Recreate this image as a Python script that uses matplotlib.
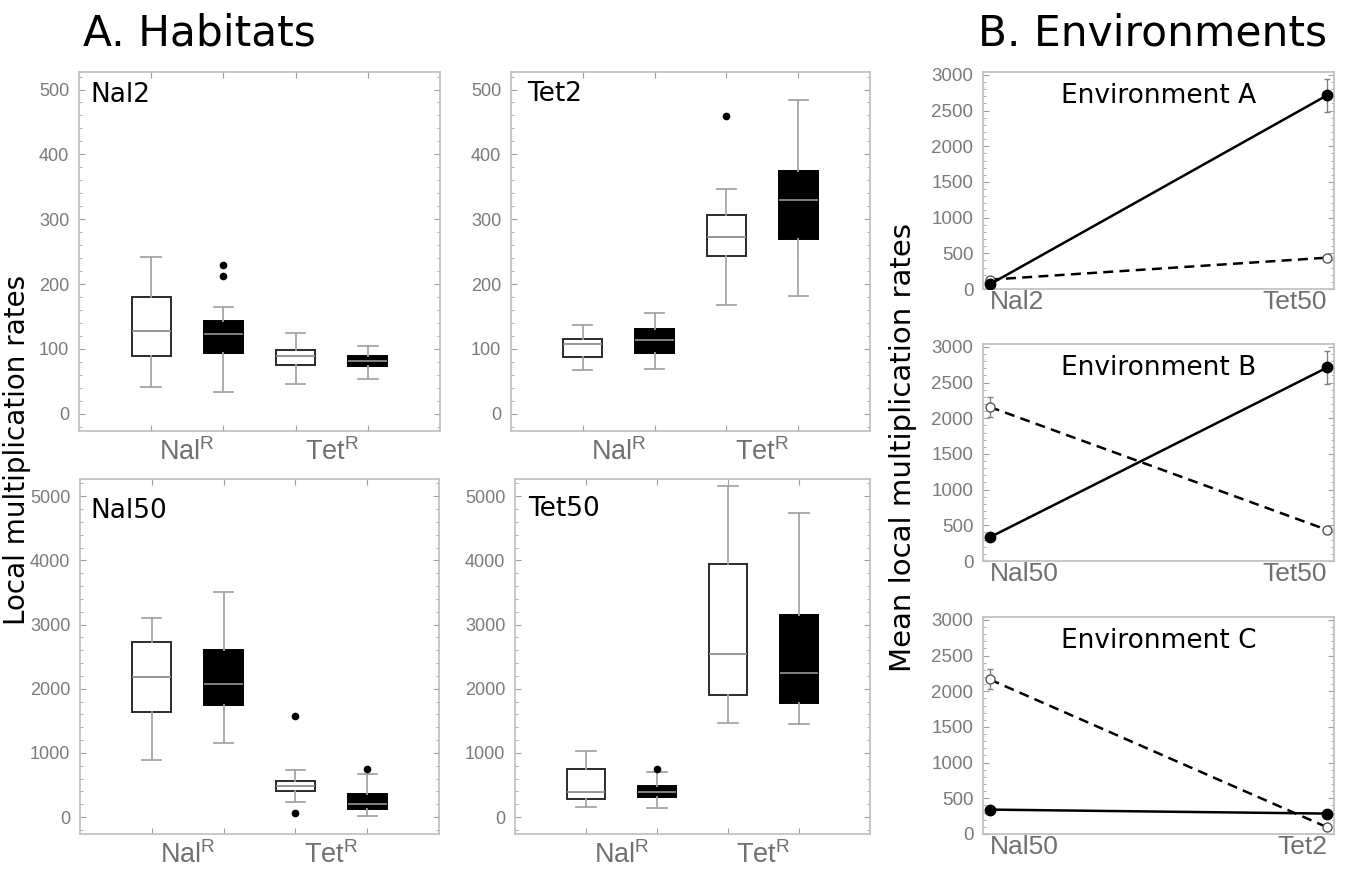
import matplotlib
matplotlib.use("Agg")
import matplotlib.pyplot as plt
from matplotlib.ticker import MultipleLocator

plt.rcParams['mathtext.fontset'] = 'custom'
plt.rcParams['mathtext.rm'] = 'Liberation Sans'

W, H = 1351, 869

# ---- box plot data (NalR white, NalR black, TetR white, TetR black) ----
nal2_lo  = [41, 33, 46, 53]
nal2_q1  = [89, 94, 76, 73]
nal2_med = [128, 123, 89, 81]
nal2_q3  = [180, 143, 98, 89]
nal2_hi  = [241, 165, 125, 105]
nal2_out = [[], [230, 212], [], []]

tet2_lo  = [67, 69, 167, 181]
tet2_q1  = [88, 94, 243, 270]
tet2_med = [108, 114, 272, 330]
tet2_q3  = [116, 130, 307, 374]
tet2_hi  = [137, 156, 346, 484]
tet2_out = [[], [], [459], []]

nal50_lo  = [896, 1151, 234, 10]
nal50_q1  = [1641, 1750, 401, 125]
nal50_med = [2177, 2078, 490, 208]
nal50_q3  = [2734, 2604, 568, 359]
nal50_hi  = [3109, 3510, 740, 672]
nal50_out = [[], [], [1568, 62], [745]]

tet50_lo  = [156, 146, 1458, 1443]
tet50_q1  = [281, 312, 1901, 1776]
tet50_med = [390, 396, 2542, 2240]
tet50_q3  = [750, 479, 3943, 3151]
tet50_hi  = [1026, 698, 5156, 4745]
tet50_out = [[], [755], [], []]

categories = [r'Nal$^{\mathrm{R}}$', r'Tet$^{\mathrm{R}}$']

# ---- environment means (solid = TetR, dashed = NalR) ----
envA_sites = ['Nal2', 'Tet50']
envA_tet = [65, 2715]
envA_tet_err = [15, 230]
envA_nal = [131, 439]
envA_nal_err = [20, 30]

envB_sites = ['Nal50', 'Tet50']
envB_tet = [332, 2711]
envB_tet_err = [30, 225]
envB_nal = [2158, 435]
envB_nal_err = [140, 30]

envC_sites = ['Nal50', 'Tet2']
envC_tet = [342, 286]
envC_tet_err = [30, 15]
envC_nal = [2165, 94]
envC_nal_err = [140, 10]

GRAY_TXT = '#7a7a7a'
SPINE = '#bdbdbd'


def add_ax(x0, y0, x1, y1):
    return fig.add_axes([x0 / W, (H - y1) / H, (x1 - x0) / W, (y1 - y0) / H])


def style_ax(ax, minor, labsize):
    for s in ax.spines.values():
        s.set_color(SPINE)
        s.set_linewidth(1.2)
    ax.yaxis.set_minor_locator(MultipleLocator(minor))
    ax.tick_params(which='both', direction='in', top=True, right=True,
                   colors='#a0a0a0', labelcolor=GRAY_TXT)
    ax.tick_params(which='major', length=4, width=0.8)
    ax.tick_params(which='minor', length=2, width=0.6)
    ax.tick_params(axis='y', labelsize=labsize, pad=7)
    for t in ax.get_yticklabels():
        t.set_family('Liberation Sans')


def box_panel(ax, lo, q1, med, q3, hi, out, ymax, ystep, minor, name, nx, ny):
    stats = []
    for i in range(4):
        stats.append(dict(whislo=lo[i], q1=q1[i], med=med[i], q3=q3[i],
                          whishi=hi[i], fliers=out[i]))
    bp = ax.bxp(stats, positions=[1, 2, 3, 4], widths=0.54, patch_artist=True,
                showfliers=True, manage_ticks=False,
                whiskerprops=dict(color='#a5a5a5', lw=1.3),
                capprops=dict(color='#a5a5a5', lw=1.3),
                medianprops=dict(color='#8c8c8c', lw=1.3),
                flierprops=dict(marker='o', markerfacecolor='black',
                                markeredgecolor='black', markersize=4.5))
    for i, b in enumerate(bp['boxes']):
        if i % 2 == 0:
            b.set_facecolor('white')
            b.set_edgecolor('#2a2a2a')
        else:
            b.set_facecolor('black')
            b.set_edgecolor('black')
        b.set_linewidth(1.4)
    ax.set_xlim(0, 5)
    ax.set_ylim(-0.053 * ymax, 1.054 * ymax)
    ax.yaxis.set_major_locator(MultipleLocator(ystep))
    ax.set_xticks([1, 2, 3, 4])
    ax.set_xticklabels([])
    ax.set_xticks([1.5, 3.5], minor=True)
    ax.set_xticklabels(categories, minor=True)
    style_ax(ax, minor, 13)
    ax.tick_params(axis='x', which='minor', length=0, pad=5, labelsize=19.5)
    for t in ax.get_xticklabels(minor=True):
        t.set_family('Liberation Sans')
        t.set_color('#707070')
    ax.text(nx, ny, name, transform=ax.transAxes, fontsize=19,
            family='DejaVu Sans', va='baseline', ha='left')


def env_panel(ax, sites, tet, tet_err, nal, nal_err, name):
    x = [0, 1]
    ax.errorbar(x, nal, yerr=nal_err, color='black', ls=(0, (4, 2.5)), lw=1.8,
                marker='o', markersize=6.5, markerfacecolor='white',
                markeredgecolor='#555555', markeredgewidth=1.0,
                ecolor='#808080', elinewidth=1.0, capsize=2, zorder=3)
    ax.errorbar(x, tet, yerr=tet_err, color='black', ls='-', lw=1.8,
                marker='o', markersize=7.5, markerfacecolor='black',
                markeredgecolor='black',
                ecolor='#808080', elinewidth=1.0, capsize=2, zorder=4)
    ax.set_xlim(-0.02, 1.02)
    ax.set_ylim(0, 3040)
    ax.yaxis.set_major_locator(MultipleLocator(500))
    ax.set_xticks([0, 1])
    ax.set_xticklabels(sites)
    style_ax(ax, 100, 13.5)
    ax.tick_params(axis='x', which='both', length=0, pad=1, labelsize=19)
    labs = ax.get_xticklabels()
    for t in labs:
        t.set_family('Liberation Sans')
        t.set_color('#707070')
    labs[0].set_ha('left')
    labs[1].set_ha('right')
    ax.text(0.5, 0.855, name, transform=ax.transAxes, fontsize=19,
            family='DejaVu Sans', va='baseline', ha='center')


fig = plt.figure(figsize=(W / 100, H / 100), dpi=100)

ax1 = add_ax(79, 72, 440, 431)
box_panel(ax1, nal2_lo, nal2_q1, nal2_med, nal2_q3, nal2_hi, nal2_out,
          500, 100, 20, 'Nal2', 0.032, 0.916)
ax2 = add_ax(511, 72, 870, 431)
box_panel(ax2, tet2_lo, tet2_q1, tet2_med, tet2_q3, tet2_hi, tet2_out,
          500, 100, 20, 'Tet2', 0.044, 0.918)
ax3 = add_ax(80, 479, 439, 834)
box_panel(ax3, nal50_lo, nal50_q1, nal50_med, nal50_q3, nal50_hi, nal50_out,
          5000, 1000, 200, 'Nal50', 0.03, 0.89)
ax4 = add_ax(515, 479, 870, 834)
box_panel(ax4, tet50_lo, tet50_q1, tet50_med, tet50_q3, tet50_hi, tet50_out,
          5000, 1000, 200, 'Tet50', 0.037, 0.896)

ax5 = add_ax(983, 72, 1334, 289)
env_panel(ax5, envA_sites, envA_tet, envA_tet_err, envA_nal, envA_nal_err,
          'Environment A')
ax6 = add_ax(983, 344, 1334, 561)
env_panel(ax6, envB_sites, envB_tet, envB_tet_err, envB_nal, envB_nal_err,
          'Environment B')
ax7 = add_ax(983, 617, 1334, 834)
env_panel(ax7, envC_sites, envC_tet, envC_tet_err, envC_nal, envC_nal_err,
          'Environment C')

fig.text(83 / W, 1 - 45 / H, 'A. Habitats', fontsize=30.5, family='DejaVu Sans',
         va='baseline', ha='left')
fig.text(978 / W, 1 - 45 / H, 'B. Environments', fontsize=30.5,
         family='DejaVu Sans', va='baseline', ha='left')
fig.text(17 / W, 1 - 450 / H, 'Local multiplication rates', fontsize=20,
         family='DejaVu Sans', rotation=90, va='center', ha='center')
fig.text(903 / W, 1 - 448 / H, 'Mean local multiplication rates', fontsize=21,
         family='DejaVu Sans', rotation=90, va='center', ha='center')

fig.savefig('out.png', dpi=100)
